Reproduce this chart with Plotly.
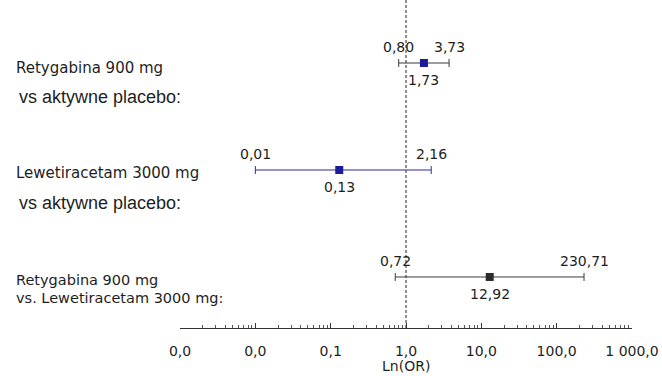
import math
import plotly.graph_objects as go

# Odds ratios with 95% confidence limits, one entry per comparison (top to bottom)
est = [1.73, 0.13, 12.92]
low = [0.80, 0.01, 0.72]
high = [3.73, 2.16, 230.71]
label_top = ["Retygabina 900 mg", "Lewetiracetam 3000 mg", "Retygabina 900 mg"]
label_sub = ["vs aktywne placebo:", "vs aktywne placebo:", "vs. Lewetiracetam 3000 mg:"]
tick_vals = [0.001, 0.01, 0.1, 1, 10, 100, 1000]
tick_text = ["0,0", "0,0", "0,1", "1,0", "10,0", "100,0", "1 000,0"]
null_value = 1

marker_colors = ["#1a1a9a", "#1a1a9a", "#2b2b2b"]
line_colors = ["#3a3a3a", "#2c2c9a", "#3a3a3a"]

VERDANA = "DejaVu Sans, Verdana, sans-serif"
ARIAL = "Liberation Sans, Arial, sans-serif"
TXT = "#1e1e1e"

Y_RANGE = [0.523, 3.589]


def fmt(v):
    return f"{v:.2f}".replace(".", ",")


n = len(est)
ypos = [n - i for i in range(n)]  # first comparison on top

fig = go.Figure()

# dashed reference line at OR = 1
fig.add_trace(go.Scatter(
    x=[null_value, null_value], y=Y_RANGE, mode="lines",
    line=dict(color="#222", width=1, dash="3px,2px"),
    showlegend=False, hoverinfo="skip", cliponaxis=False,
))

for i in range(n):
    fig.add_trace(go.Scatter(
        x=[est[i]], y=[ypos[i]], mode="markers",
        marker=dict(symbol="square", size=8, color=marker_colors[i],
                    line=dict(width=0)),
        error_x=dict(type="data", symmetric=False,
                     array=[high[i] - est[i]], arrayminus=[est[i] - low[i]],
                     color=line_colors[i], thickness=1, width=4),
        showlegend=False, hoverinfo="skip",
    ))

annotations = []
for i in range(n):
    for v, shift in ((low[i], 16), (high[i], 16), (est[i], -17)):
        annotations.append(dict(
            x=math.log10(v), y=ypos[i], xref="x", yref="y", text=fmt(v),
            showarrow=False, yshift=shift, xanchor="center", yanchor="middle",
            font=dict(family=VERDANA, size=14, color=TXT)))

# Row captions on the left (x given in pixels, converted below)
L, R = 180, 30
W = 662 - L - R
sub_shift = [-34, -33, -21]
top_shift = [-5, -3, -3]
for i in range(n):
    annotations.append(dict(
        x=(14 - L) / W, y=ypos[i], xref="paper", yref="y", text=label_top[i],
        showarrow=False, xanchor="left", yanchor="middle", yshift=top_shift[i],
        font=dict(family=VERDANA, size=15 if i < 2 else 14.5, color=TXT)))
    annotations.append(dict(
        x=((17 if i < 2 else 14) - L) / W, y=ypos[i], xref="paper", yref="y",
        text=label_sub[i], showarrow=False, xanchor="left", yanchor="middle",
        yshift=sub_shift[i],
        font=dict(family=ARIAL if i < 2 else VERDANA, size=18 if i < 2 else 14.5,
                  color=TXT)))

annotations.append(dict(
    x=0, y=0, xref="x", yref="paper", text="Ln(OR)", showarrow=False,
    xanchor="center", yanchor="middle", yshift=-38,
    font=dict(family=VERDANA, size=14, color=TXT)))

minor_vals = [m * 10 ** d for d in range(-3, 3) for m in range(2, 10)]

fig.update_layout(
    width=662, height=376,
    margin=dict(l=L, r=R, t=0, b=48),
    paper_bgcolor="white", plot_bgcolor="white",
    annotations=annotations,
    xaxis=dict(
        type="log", range=[-3, 3], showgrid=False, zeroline=False,
        showline=True, linecolor="#333", linewidth=1,
        tickmode="array", tickvals=tick_vals, ticktext=tick_text,
        ticks="inside", ticklen=5, tickcolor="#333", tickwidth=1,
        ticklabelstandoff=10,
        tickfont=dict(family=VERDANA, size=14, color=TXT),
        minor=dict(tickmode="array", tickvals=minor_vals, ticks="inside",
                   ticklen=3, tickcolor="#555", tickwidth=1, showgrid=False),
    ),
    yaxis=dict(range=Y_RANGE, visible=False, showgrid=False, zeroline=False),
)

fig.write_html("out.html")
